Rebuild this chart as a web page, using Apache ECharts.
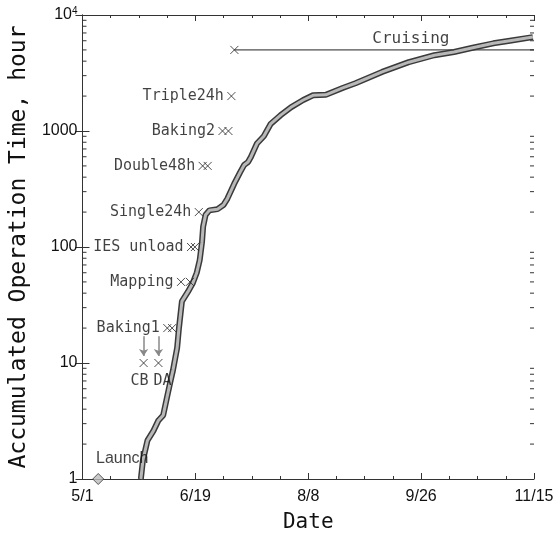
<!DOCTYPE html>
<html>
<head>
<meta charset="utf-8">
<script src="https://cdn.jsdelivr.net/npm/echarts@6/dist/echarts.min.js"></script>
<style>
  html, body { margin: 0; padding: 0; background: #fff; }
  #chart { width: 557px; height: 538px; }
</style>
</head>
<body>
<div id="chart"></div>
<script>
// days counted from 5/1
const xTickLabels = ['5/1', '6/19', '8/8', '9/26', '11/15'];
const xTickStep = 49.5;
const xEnd = 198;

// accumulated operation time curve [day, hour]
const curveDays = [25.6, 26.5, 28.5, 31.1, 33.3, 35.4, 37.1, 38.4, 39.7, 41.5, 42.3, 43.6, 46.2, 48.4, 50.1, 51.4, 52.4, 52.9, 54.0, 55.7, 59.2, 61.8, 63.5, 66.5, 69.1, 70.9, 72.6, 73.9, 76.5, 79.5, 82.5, 86.9, 91.4, 96.8, 101.1, 106.7, 114.1, 119.7, 131.4, 143.1, 154.3, 162.9, 171.6, 180.2, 187.4, 197.5];
const curveHours = [1, 1.45, 2.15, 2.6, 3.2, 3.55, 5.1, 6.7, 8.7, 13.5, 20, 34, 41, 49, 60, 77, 110, 150, 190, 207, 212, 230, 260, 350, 440, 510, 540, 600, 780, 900, 1150, 1370, 1600, 1850, 2030, 2050, 2350, 2580, 3230, 3920, 4500, 4800, 5250, 5700, 6000, 6450];

// events
const eventNames = ['Launch', 'CB', 'DA', 'Baking1', 'Mapping', 'IES unload', 'Single24h', 'Double48h', 'Baking2', 'Triple24h', 'Cruising'];
const eventDays = [[6.9], [26.8], [33.3], [37.2, 39.3], [43.2, 47.1], [47.6, 49.3], [51.0], [52.7, 54.9], [61.4, 64.0], [65.3], [66.6]];
const eventHours = [1, 10, 10, 20, 50, 100, 200, 500, 1000, 2000, 5000];
const cruiseLabelDay = 144;

// log minor ticks
const yMinorTicks = [];
[1, 10, 100, 1000].forEach(d => {
    for (let k = 2; k <= 9; k++) yMinorTicks.push(k * d);
});

const chart = echarts.init(document.getElementById('chart'));

const monoFont = 'DejaVu Sans Mono';
const tickFont = 'Liberation Sans';
const ink = '#111';

const curveData = curveDays.map((d, i) => [d, curveHours[i]]);

const crossData = [];
eventNames.forEach((name, i) => {
    if (name === 'Launch') return;
    eventDays[i].forEach((d, j) => {
        let label = { show: false };
        if (j === 0 && name !== 'Cruising') {
            if (name === 'CB') {
                label = { show: true, position: 'bottom', distance: 4, offset: [-4, 0], formatter: name };
            } else if (name === 'DA') {
                label = { show: true, position: 'bottom', distance: 4, offset: [4, 0], formatter: name };
            } else {
                label = { show: true, position: 'left', distance: 1, formatter: name };
            }
        }
        crossData.push({ value: [d, eventHours[i]], label: label });
    });
});

const cruiseIdx = eventNames.indexOf('Cruising');
const cruiseStart = eventDays[cruiseIdx][0];
const cruiseHour = eventHours[cruiseIdx];
const launchIdx = eventNames.indexOf('Launch');

const option = {
    animation: false,
    backgroundColor: '#fff',
    grid: { left: 76, right: 23, top: 15, bottom: 59 },
    xAxis: [
        {
            type: 'value',
            min: 0,
            max: xEnd,
            interval: xTickStep,
            name: 'Date',
            nameLocation: 'middle',
            nameGap: 33,
            nameTextStyle: { fontFamily: monoFont, fontSize: 21, color: ink },
            axisLine: { lineStyle: { color: '#333', width: 1 } },
            axisTick: { inside: true, length: 6, lineStyle: { color: '#333' } },
            minorTick: { show: true, splitNumber: 4, length: 3, lineStyle: { color: '#333' } },
            splitLine: { show: false },
            axisLabel: {
                fontFamily: tickFont, fontSize: 16, color: ink, margin: 10,
                formatter: v => xTickLabels[Math.round(v / xTickStep)] || ''
            }
        },
        {
            type: 'value',
            position: 'top',
            min: 0,
            max: xEnd,
            interval: xTickStep,
            axisLine: { lineStyle: { color: '#333', width: 1 } },
            axisTick: { inside: true, length: 6, lineStyle: { color: '#333' } },
            minorTick: { show: true, splitNumber: 4, length: 3, lineStyle: { color: '#333' } },
            splitLine: { show: false },
            axisLabel: { show: false }
        }
    ],
    yAxis: [
        {
            type: 'log',
            logBase: 10,
            min: 1,
            max: 10000,
            name: 'Accumulated Operation Time, hour',
            nameLocation: 'middle',
            nameGap: 47,
            nameTextStyle: { fontFamily: monoFont, fontSize: 23, color: ink },
            axisLine: { show: true, lineStyle: { color: '#333', width: 1 } },
            axisTick: { show: true, inside: true, length: 7, lineStyle: { color: '#333' } },
            splitLine: { show: false },
            axisLabel: {
                fontFamily: tickFont, fontSize: 16, color: ink, margin: 5,
                formatter: v => v >= 10000 ? '10{sup|4}' : String(Math.round(v)),
                rich: {
                    sup: { fontFamily: tickFont, fontSize: 10, verticalAlign: 'top', padding: [0, 0, 8, 0], color: ink }
                }
            }
        },
        {
            type: 'log',
            logBase: 10,
            min: 1,
            max: 10000,
            position: 'right',
            axisLine: { show: true, lineStyle: { color: '#333', width: 1 } },
            axisTick: { show: true, inside: true, length: 7, lineStyle: { color: '#333' } },
            splitLine: { show: false },
            axisLabel: { show: false }
        }
    ],
    series: [
        {
            type: 'custom',
            silent: true,
            data: yMinorTicks,
            encode: { y: 0 },
            renderItem: (params, api) => {
                const v = api.value(0);
                const l = api.coord([0, v]);
                const r = api.coord([xEnd, v]);
                return {
                    type: 'group',
                    children: [
                        { type: 'line', shape: { x1: l[0], y1: l[1], x2: l[0] + 4, y2: l[1] }, style: { stroke: '#333', lineWidth: 1 } },
                        { type: 'line', shape: { x1: r[0] - 4, y1: r[1], x2: r[0], y2: r[1] }, style: { stroke: '#333', lineWidth: 1 } }
                    ]
                };
            }
        },
        {
            type: 'line',
            data: [[cruiseStart, cruiseHour], [xEnd, cruiseHour]],
            showSymbol: false,
            symbol: 'none',
            lineStyle: { color: '#222', width: 1 }
        },
        {
            type: 'scatter',
            data: [[cruiseLabelDay, cruiseHour]],
            symbolSize: 1,
            itemStyle: { color: 'rgba(0,0,0,0)' },
            label: { show: true, formatter: 'Cruising', position: 'top', distance: 3, fontFamily: monoFont, fontSize: 16, color: ink }
        },
        {
            type: 'line',
            data: curveData,
            showSymbol: false,
            symbol: 'none',
            lineStyle: { color: '#3a3a3a', width: 6 },
            z: 3
        },
        {
            type: 'line',
            data: curveData,
            showSymbol: false,
            symbol: 'none',
            lineStyle: { color: '#b8b8b8', width: 3 },
            z: 4
        },
        {
            type: 'scatter',
            data: crossData,
            symbol: 'path://M0,0L10,10M10,0L0,10',
            symbolSize: 8,
            itemStyle: { color: 'none', borderColor: '#222', borderWidth: 1 },
            label: { fontFamily: monoFont, fontSize: 15, color: ink },
            z: 5,
            markLine: {
                silent: true,
                symbol: ['none', 'arrow'],
                symbolSize: 7,
                lineStyle: { color: '#888', width: 1.5, type: 'solid' },
                label: { show: false },
                data: [
                    [{ coord: [eventDays[1][0], 17] }, { coord: [eventDays[1][0], 11.5] }],
                    [{ coord: [eventDays[2][0], 17] }, { coord: [eventDays[2][0], 11.5] }]
                ]
            }
        },
        {
            type: 'scatter',
            data: [[eventDays[launchIdx][0], eventHours[launchIdx]]],
            symbol: 'diamond',
            symbolSize: 11,
            itemStyle: { color: '#bbb', borderColor: '#333', borderWidth: 1 },
            label: {
                show: true, formatter: 'Launch', position: 'top', distance: 6, offset: [24, 0],
                fontFamily: tickFont, fontSize: 16, color: ink
            },
            z: 5
        }
    ]
};

chart.setOption(option);
</script>
</body>
</html>
